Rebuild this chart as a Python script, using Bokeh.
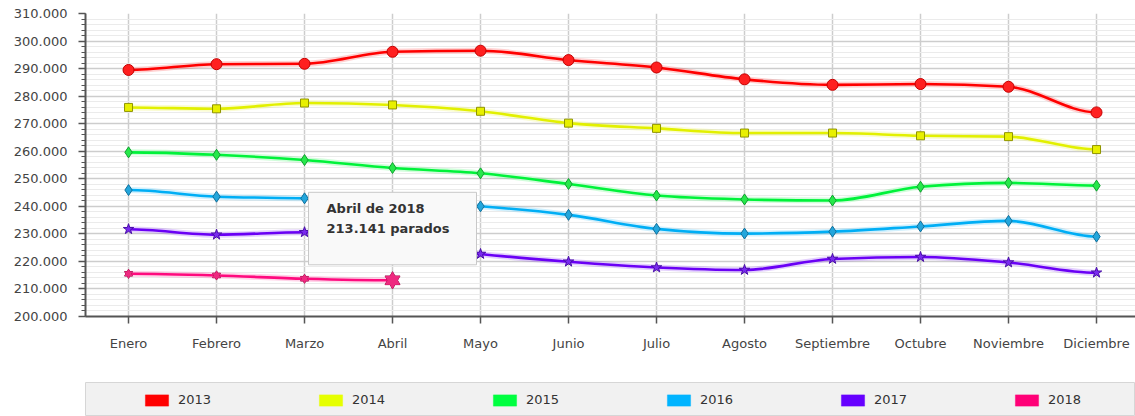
import math
from bokeh.plotting import figure
from bokeh.models import Range1d, FixedTicker, Label, Legend, LegendItem
from bokeh.layouts import column
from bokeh.embed import file_html
from bokeh.resources import INLINE

# ---------------- data ----------------
months = ["Enero", "Febrero", "Marzo", "Abril", "Mayo", "Junio", "Julio",
          "Agosto", "Septiembre", "Octubre", "Noviembre", "Diciembre"]
y_tick_values = [200000, 210000, 220000, 230000, 240000, 250000,
                 260000, 270000, 280000, 290000, 300000, 310000]
y_tick_labels = ["200.000", "210.000", "220.000", "230.000", "240.000", "250.000",
                 "260.000", "270.000", "280.000", "290.000", "300.000", "310.000"]
years = ["2013", "2014", "2015", "2016", "2017", "2018"]
s2013 = [289500, 291600, 291750, 296100, 296500, 293100, 290400, 286100, 284100, 284400, 283400, 274100]
s2014 = [275900, 275400, 277500, 276800, 274500, 270200, 268300, 266600, 266600, 265600, 265300, 260600]
s2015 = [259600, 258700, 256800, 253900, 252000, 248100, 243900, 242500, 242100, 247100, 248500, 247500]
s2016 = [245900, 243500, 242900, 241800, 240000, 236900, 231800, 230100, 230800, 232700, 234700, 229000]
s2017 = [231700, 229700, 230600, 226800, 222700, 219900, 217800, 216900, 220900, 221600, 219600, 215900]
s2018 = [215500, 214900, 213700, 213141]
tooltip_title = "Abril de 2018"
tooltip_value = "213.141 parados"

series = [s2013, s2014, s2015, s2016, s2017, s2018]
line_colors = ["#ff0000", "#e2f000", "#00f23a", "#00aef5", "#6a00f5", "#ff0a7e"]
legend_colors = ["#ff0000", "#e6ff00", "#00ff40", "#00b4ff", "#6600ff", "#ff0077"]
marker_fill = ["#ff2020", "#e8f000", "#26e84a", "#23a6dc", "#7a2af0", "#ee2a80"]
marker_line = ["#c40000", "#8f9400", "#10a030", "#11709c", "#4a10a8", "#a0104c"]

# ---------------- smooth curve helper (monotone cubic) ----------------
def tangents(y):
    n = len(y)
    m = [0.0] * n
    for i in range(1, n - 1):
        s0 = y[i] - y[i - 1]
        s1 = y[i + 1] - y[i]
        p = (s0 + s1) / 2.0
        sg = (1 if s0 > 0 else -1 if s0 < 0 else 0) + (1 if s1 > 0 else -1 if s1 < 0 else 0)
        m[i] = sg * min(abs(s0), abs(s1), 0.5 * abs(p))
    return m


def bezier_data(y):
    m = tangents(y)
    d = dict(x0=[], y0=[], x1=[], y1=[], cx0=[], cy0=[], cx1=[], cy1=[])
    for i in range(len(y) - 1):
        d["x0"].append(i); d["y0"].append(y[i])
        d["x1"].append(i + 1); d["y1"].append(y[i + 1])
        d["cx0"].append(i + 1 / 3); d["cy0"].append(y[i] + m[i] / 3)
        d["cx1"].append(i + 1 - 1 / 3); d["cy1"].append(y[i + 1] - m[i + 1] / 3)
    return d

# ---------------- main figure ----------------
p = figure(width=1135, height=381,
           x_range=Range1d(-0.489, 11.443), y_range=Range1d(200000, 310000),
           toolbar_location=None, output_backend="svg",
           min_border_left=85, min_border_right=0, min_border_top=13, min_border_bottom=65)
p.background_fill_color = "white"
p.border_fill_color = "white"
p.outline_line_color = None

p.xaxis.ticker = FixedTicker(ticks=list(range(len(months))), minor_ticks=[])
p.xaxis.major_label_overrides = {i: m for i, m in enumerate(months)}
p.yaxis.ticker = FixedTicker(ticks=y_tick_values,
                             minor_ticks=list(range(y_tick_values[0], y_tick_values[-1] + 1, 2000)))
p.yaxis.major_label_overrides = dict(zip(y_tick_values, y_tick_labels))

for ax in (p.xaxis[0], p.yaxis[0]):
    ax.axis_line_color = "#555555"
    ax.axis_line_width = 2
    ax.major_tick_line_color = "#555555"
    ax.major_tick_line_width = 1.5
    ax.major_tick_out = 7
    ax.major_tick_in = 0
    ax.major_label_text_font = "DejaVu Sans"
    ax.major_label_text_font_size = "13px"
    ax.major_label_text_color = "#444444"
p.yaxis.minor_tick_line_color = "#555555"
p.yaxis.minor_tick_out = 4
p.yaxis.minor_tick_in = 0
p.xaxis.minor_tick_line_color = None
p.xaxis.major_label_standoff = 12
p.yaxis.major_label_standoff = 11

p.xgrid.grid_line_color = "#cdcdcd"
p.xgrid.grid_line_width = 1.5
p.ygrid.grid_line_color = "#cdcdcd"
p.ygrid.grid_line_width = 1.5
p.ygrid.minor_grid_line_color = "#ebebeb"
p.ygrid.minor_grid_line_width = 1

markers = ["circle", "square", "diamond", "diamond", "star", None]
sizes = [11, 8, 11, 11, 11, 8]

for k, ys in enumerate(series):
    bd = bezier_data(ys)
    p.bezier(line_color=line_colors[k], line_width=6, line_alpha=0.18, line_cap="round", **bd)
    p.bezier(line_color=line_colors[k], line_width=2.6, line_cap="round", **bd)

for k, ys in enumerate(series):
    xs = list(range(len(ys)))
    if markers[k] is not None:
        p.scatter(xs, ys, marker=markers[k], size=sizes[k],
                  fill_color=marker_fill[k], line_color=marker_line[k], line_width=1)
    else:
        sz = [8] * (len(ys) - 1) + [15]
        for mk in ("triangle", "inverted_triangle"):
            p.scatter(xs, ys, marker=mk, size=sz, fill_color=marker_fill[k],
                      line_color=marker_line[k], line_width=1)
        for mk in ("triangle", "inverted_triangle"):
            p.scatter(xs, ys, marker=mk, size=sz, fill_color=marker_fill[k], line_color=None)

# tooltip for the last 2018 point (box top-left anchored relative to the point)
tx = len(s2018) - 1
ty = s2018[-1]
tip_text = tooltip_title + "\n" + tooltip_value
pad = dict(left=18, right=27, top=9, bottom=29)
shadow = Label(x=tx, y=ty, x_offset=-81, y_offset=85, text=tip_text,
               text_font="DejaVu Sans", text_font_style="bold", text_font_size="13px",
               text_line_height=1.3, text_align="left", text_baseline="top",
               text_alpha=0.0, padding=pad,
               background_fill_color="#000000", background_fill_alpha=0.10,
               border_line_color=None)
tip = Label(x=tx, y=ty, x_offset=-84, y_offset=88, text=tip_text,
            text_font="DejaVu Sans", text_font_style="bold", text_font_size="13px",
            text_line_height=1.3, text_align="left", text_baseline="top",
            text_color="#333333", padding=pad,
            background_fill_color="#f9f9f9", background_fill_alpha=1.0,
            border_line_color="#c8c8c8", border_line_width=1)
p.add_layout(shadow)
p.add_layout(tip)

# ---------------- legend strip ----------------
p2 = figure(width=1135, height=35, x_axis_type=None, y_axis_type=None,
            x_range=Range1d(0, 1), y_range=Range1d(0, 1),
            toolbar_location=None, output_backend="svg",
            min_border_left=84, min_border_right=0, min_border_top=1, min_border_bottom=0)
p2.background_fill_color = "#f1f1f1"
p2.border_fill_color = "white"
p2.outline_line_color = "#d6d6d6"
items = []
for yr, col in zip(years, legend_colors):
    # placeholder renderer (NaN position, never drawn) that only carries the legend style
    r = p2.rect(x=[float("nan")], y=[float("nan")], width=1, height=1,
                fill_color=col, line_color=col, line_alpha=0.45)
    items.append(LegendItem(label=yr, renderers=[r]))
leg = Legend(items=items, orientation="horizontal", location=(57, 9),
             glyph_width=29, glyph_height=14, label_standoff=7,
             label_width=100, label_height=14, spacing=38, padding=0, margin=0,
             border_line_color=None, background_fill_alpha=0.0,
             label_text_font="DejaVu Sans", label_text_font_size="13px",
             label_text_color="#333333")
p2.add_layout(leg)

layout = column(p, p2, spacing=0)
open("out.html", "w").write(file_html(layout, INLINE))
